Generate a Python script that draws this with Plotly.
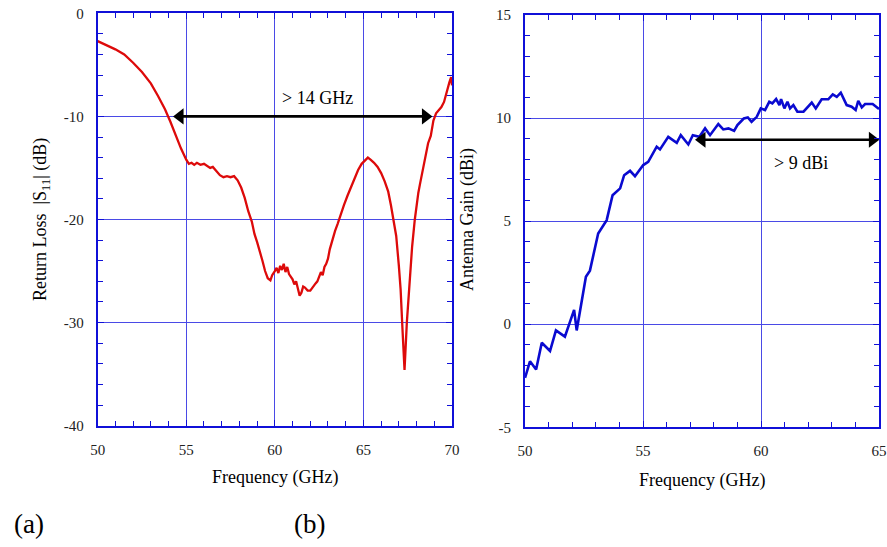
import plotly.graph_objects as go

# (a) Return loss data
freq_a = [50.0, 50.5, 51.0, 51.5, 52.0, 52.5, 53.0, 53.4, 53.8, 54.1, 54.4, 54.7, 55.0, 55.15, 55.3, 55.45,
          55.6, 55.8, 56.0, 56.2, 56.35, 56.5, 56.7, 56.9, 57.1, 57.3, 57.5, 57.7, 57.9, 58.1, 58.3, 58.5,
          58.7, 58.85, 59.0, 59.15, 59.3, 59.45, 59.6, 59.75, 59.85, 60.0, 60.1, 60.2, 60.3, 60.4, 60.5,
          60.6, 60.7, 60.8, 60.9, 61.0, 61.1, 61.2, 61.3, 61.4, 61.5, 61.6, 61.7, 61.85, 62.0, 62.15, 62.3,
          62.4, 62.5, 62.6, 62.7, 62.8, 62.9, 63.0, 63.1, 63.2, 63.3, 63.4, 63.55, 63.7, 63.9, 64.1, 64.3,
          64.5, 64.7, 64.9, 65.1, 65.25, 65.4, 65.6, 65.8, 66.0, 66.2, 66.4, 66.55, 66.7, 66.85, 67.0, 67.1,
          67.2, 67.32, 67.45, 67.6, 67.75, 67.9, 68.0, 68.1, 68.2, 68.35, 68.5, 68.65, 68.8, 68.95, 69.1,
          69.25, 69.4, 69.55, 69.7, 69.85, 69.95, 70.0]
s11_db = [-2.7, -3.1, -3.5, -4.0, -4.8, -5.7, -6.8, -8.0, -9.3, -10.5, -11.8, -13.1, -14.2, -14.6, -14.5, -14.7,
          -14.5, -14.7, -14.6, -14.8, -15.0, -14.9, -15.3, -15.7, -15.9, -15.8, -15.9, -15.8, -16.2, -16.9, -17.9, -19.2,
          -20.2, -21.4, -22.2, -23.0, -24.0, -25.0, -25.7, -25.9, -25.4, -25.0, -24.7, -25.2, -24.5, -24.9, -24.3,
          -25.1, -24.6, -25.3, -25.5, -25.8, -26.3, -26.0, -26.7, -27.4, -27.1, -26.5, -26.6, -26.9, -26.9, -26.5, -26.2,
          -26.0, -25.6, -25.1, -25.4, -24.6, -24.3, -23.8, -22.9, -22.3, -21.5, -21.1, -20.4, -19.6, -18.6, -17.7, -16.8,
          -15.9, -15.2, -14.6, -14.2, -14.0, -14.2, -14.5, -14.9, -15.5, -16.3, -17.3, -18.6, -20.0, -21.6, -24.5, -26.8,
          -30.5, -34.6, -30.0, -26.0, -22.6, -20.0, -18.6, -17.4, -16.5, -15.1, -13.8, -12.6, -11.9, -10.4, -9.7,
          -9.4, -9.1, -8.6, -7.5, -6.7, -6.2, -7.0]

# (b) Antenna gain data
freq_b = [50.0, 50.21, 50.47, 50.71, 51.06, 51.31, 51.69, 52.08, 52.19, 52.58, 52.75, 53.1, 53.46, 53.71,
          54.03, 54.2, 54.45, 54.66, 55.01, 55.22, 55.58, 55.72, 56.07, 56.43, 56.6, 56.92, 57.11, 57.39,
          57.63, 57.84, 58.19, 58.4, 58.62, 58.86, 59.0, 59.27, 59.44, 59.6, 59.82, 59.99, 60.17, 60.35,
          60.48, 60.64, 60.78, 60.85, 60.99, 61.12, 61.23, 61.37, 61.54, 61.8, 62.15, 62.32, 62.57, 62.85,
          63.04, 63.21, 63.38, 63.63, 63.84, 64.01, 64.12, 64.27, 64.41, 64.73, 65.0]
gain_dbi = [-2.6, -1.8, -2.2, -0.9, -1.3, -0.3, -0.6, 0.7, -0.3, 2.3, 2.6, 4.4, 5.05, 6.26,
            6.59, 7.23, 7.44, 7.18, 7.72, 7.88, 8.61, 8.48, 9.09, 8.8, 9.17, 8.72, 9.17, 9.09,
            9.5, 9.17, 9.71, 9.45, 9.5, 9.38, 9.66, 9.98, 10.03, 9.82, 10.06, 10.47, 10.39, 10.79,
            10.71, 10.92, 10.63, 10.92, 10.47, 10.79, 10.47, 10.63, 10.31, 10.31, 10.75, 10.47, 10.91, 10.91,
            11.15, 11.03, 11.23, 10.63, 10.55, 10.39, 10.84, 10.52, 10.68, 10.68, 10.44]

# bandwidth / gain markers (arrow-head centres)
band_a_x = [54.65, 68.5]
band_a_y = [-10, -10]
band_b_x = [57.5, 64.72]
band_b_y = [8.95, 8.95]

# tick values / labels
xticks_a = [50, 55, 60, 65, 70]
yticks_a = [0, -10, -20, -30, -40]
xticks_b = [50, 55, 60, 65]
yticks_b = [15, 10, 5, 0, -5]

FONT = "Liberation Serif"
BLUE = "#1010d8"
GRID = "#4a4ae6"

fig = go.Figure()
fig.add_trace(go.Scatter(x=freq_a, y=s11_db, mode="lines", line=dict(color="#dd0a0a", width=2.3),
                         xaxis="x", yaxis="y", showlegend=False, cliponaxis=False))
fig.add_trace(go.Scatter(x=freq_b, y=gain_dbi, mode="lines", line=dict(color="#0a0ad0", width=2.6),
                         xaxis="x2", yaxis="y2", showlegend=False, cliponaxis=False))

# double-headed arrows as line + arrow markers
for xs, ys, xa, ya in [(band_a_x, band_a_y, "x", "y"), (band_b_x, band_b_y, "x2", "y2")]:
    fig.add_trace(go.Scatter(x=xs, y=ys, mode="lines+markers", xaxis=xa, yaxis=ya, showlegend=False,
                             cliponaxis=False,
                             line=dict(color="black", width=2.6),
                             marker=dict(symbol=["triangle-left", "triangle-right"], size=14,
                                         color="black", line=dict(width=0))))

def ax(rng, vals, minor, domain, anchor):
    return dict(range=rng, tickmode="array", tickvals=vals, ticktext=[str(v) for v in vals],
                domain=domain, anchor=anchor, automargin=False,
                showline=True, linecolor=BLUE, linewidth=2, mirror="allticks",
                ticks="inside", ticklen=6, tickcolor=BLUE, tickwidth=1,
                minor=dict(dtick=minor, ticks="inside", ticklen=5, tickcolor=BLUE, tickwidth=1, showgrid=False),
                showgrid=True, gridcolor=GRID, gridwidth=1,
                zeroline=False, tickfont=dict(family=FONT, size=15, color="#222"),
                ticklabelstandoff=9)

fig.update_layout(
    width=887, height=547, margin=dict(l=0, r=0, t=0, b=0, autoexpand=False),
    paper_bgcolor="white", plot_bgcolor="white",
    xaxis=ax([50, 70], xticks_a, 1, [0.1101, 0.5096], "y"),
    yaxis=ax([-40, 0], yticks_a, 2, [0.2218, 0.9757], "x"),
    xaxis2=ax([50, 65], xticks_b, 1, [0.5919, 0.991], "y2"),
    yaxis2=ax([-5, 15], yticks_b, 1, [0.2188, 0.9726], "x2"),
)

texts = [
    dict(x=62.4, y=-8.2, xref="x", yref="y", text="&gt; 14 GHz", size=18),
    dict(x=61.7, y=7.8, xref="x2", yref="y2", text="&gt; 9 dBi", size=18),
]
for t in texts:
    fig.add_annotation(x=t["x"], y=t["y"], xref=t["xref"], yref=t["yref"], text=t["text"],
                       showarrow=False, font=dict(family=FONT, size=t["size"], color="black"))

# axis titles and panel labels (paper coords)
W, H = 887, 547
labels = [
    (275, 478, "Frequency (GHz)", 0, 18),
    (702, 480, "Frequency (GHz)", 0, 18),
    (41, 220, "Return Loss  |S<sub>11</sub>| (dB)", -90, 18),
    (467, 220, "Antenna Gain (dBi)", -90, 18),
    (29, 524, "(a)", 0, 27),
    (309, 524, "(b)", 0, 27),
]
for px, py, txt, ang, sz in labels:
    fig.add_annotation(x=px / W, y=1 - py / H, xref="paper", yref="paper", text=txt, textangle=ang,
                       showarrow=False, xanchor="center", yanchor="middle",
                       font=dict(family=FONT, size=sz, color="black"))

fig.write_html("out.html", config={"displayModeBar": False},
               post_script="document.body.style.margin='0px';")
